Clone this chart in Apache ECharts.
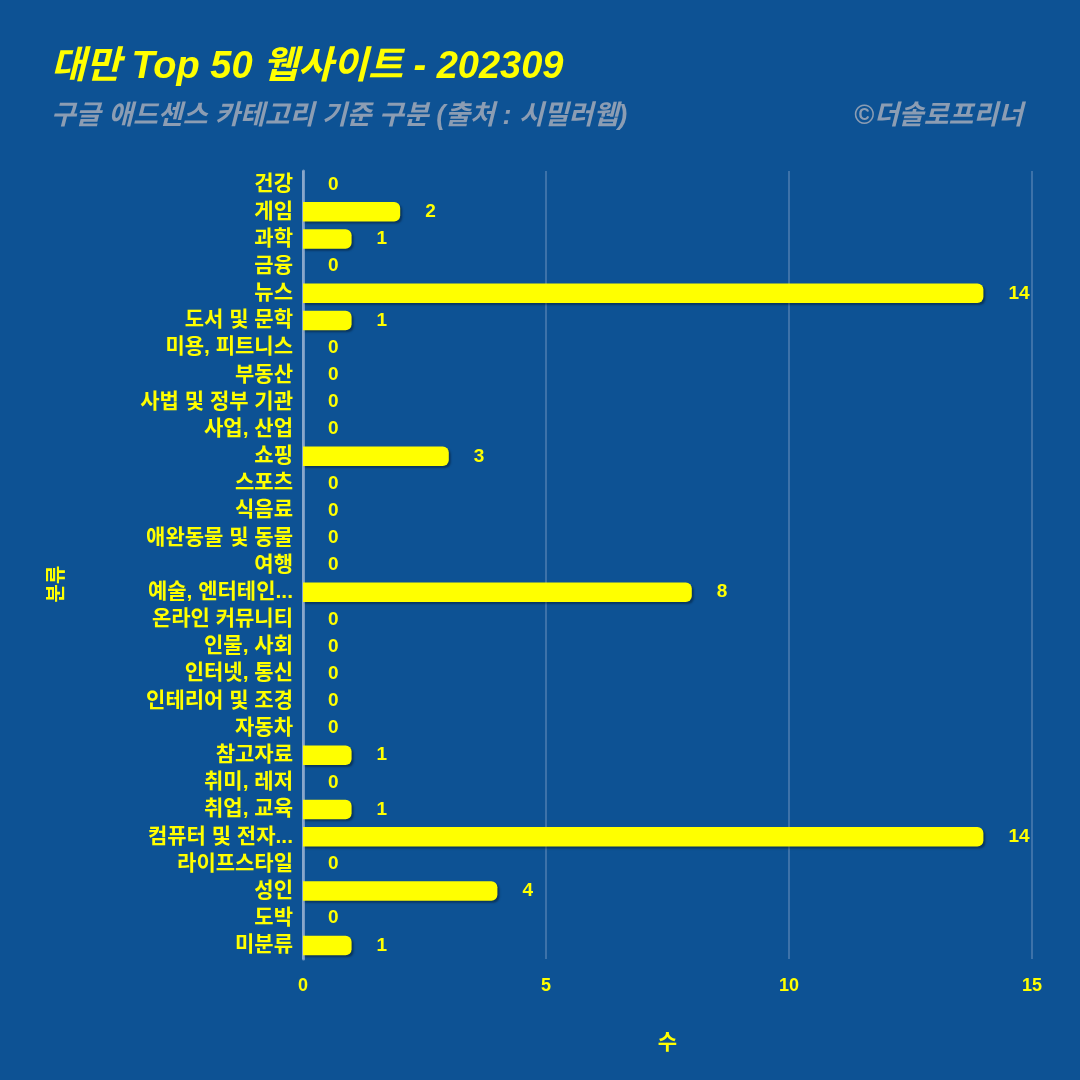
<!DOCTYPE html>
<html><head><meta charset="utf-8">
<script src="https://cdn.jsdelivr.net/npm/echarts@6/dist/echarts.min.js"></script>
<style>html,body{margin:0;padding:0;background:#0d5294;}#c{width:1080px;height:1080px;}</style>
</head><body><div id="c"></div>
<script>
const categories = ["건강","게임","과학","금융","뉴스","도서 및 문학","미용, 피트니스","부동산","사법 및 정부 기관","사업, 산업","쇼핑","스포츠","식음료","애완동물 및 동물","여행","예술, 엔터테인...","온라인 커뮤니티","인물, 사회","인터넷, 통신","인테리어 및 조경","자동차","참고자료","취미, 레저","취업, 교육","컴퓨터 및 전자...","라이프스타일","성인","도박","미분류"];
const values = [0,2,1,0,14,1,0,0,0,0,3,0,0,0,0,8,0,0,0,0,0,1,0,1,14,0,4,0,1];
const xTicks = [0,5,10,15];
const font = "'Liberation Sans','Noto Sans CJK KR',sans-serif";
const chart = echarts.init(document.getElementById('c'));
chart.setOption({
  backgroundColor:'#0d5294',
  title:[
    {text:'대만 Top 50 웹사이트 - 202309',left:46,top:44,textStyle:{color:'#ffff00',fontSize:38,fontWeight:'bold',fontStyle:'italic',fontFamily:font}},
    {text:'구글 애드센스 카테고리 기준 구분 (출처 : 시밀러웹)',left:46,top:98,textStyle:{color:'#8c9db3',fontSize:27,fontWeight:'bold',fontStyle:'italic',fontFamily:font}},
    {text:'©더솔로프리너',right:52,top:98,textStyle:{color:'#8c9db3',fontSize:27,fontWeight:'bold',fontStyle:'italic',fontFamily:font}}
  ],
  grid:{left:303,right:48,top:171,bottom:121,containLabel:false},
  xAxis:{type:'value',min:0,max:15,interval:5,
    name:'수',nameLocation:'middle',nameGap:74,
    nameTextStyle:{color:'#ffff00',fontSize:21,fontWeight:'bold',fontFamily:font},
    axisLine:{show:false},axisTick:{show:false},
    axisLabel:{color:'#ffff00',fontSize:18,fontWeight:'bold',fontFamily:font,margin:18,formatter:v=>xTicks.includes(v)?String(v):''},
    splitLine:{show:true,lineStyle:{color:'rgba(200,210,230,0.35)',width:1.5}}
  },
  yAxis:{type:'category',data:categories,inverse:true,
    name:'분류',nameLocation:'middle',nameGap:236,nameRotate:90,
    nameTextStyle:{color:'#ffff00',fontSize:20,fontWeight:'bold',fontFamily:font,padding:[0,38,0,0]},
    axisLine:{show:true,lineStyle:{color:'rgba(200,210,230,0.55)',width:3}},
    axisTick:{show:false},
    axisLabel:{color:'#ffff00',fontSize:21,fontWeight:'bold',fontFamily:font,margin:10,interval:0}
  },
  series:[{type:'bar',data:values,barWidth:'72%',
    itemStyle:{color:'#ffff00',borderRadius:[0,6,6,0],shadowColor:'rgba(0,0,0,0.35)',shadowOffsetX:2,shadowOffsetY:2,shadowBlur:2},
    label:{show:true,position:'right',distance:25,color:'#ffff00',fontSize:19,fontWeight:'bold',fontFamily:font}
  }]
});
</script></body></html>
